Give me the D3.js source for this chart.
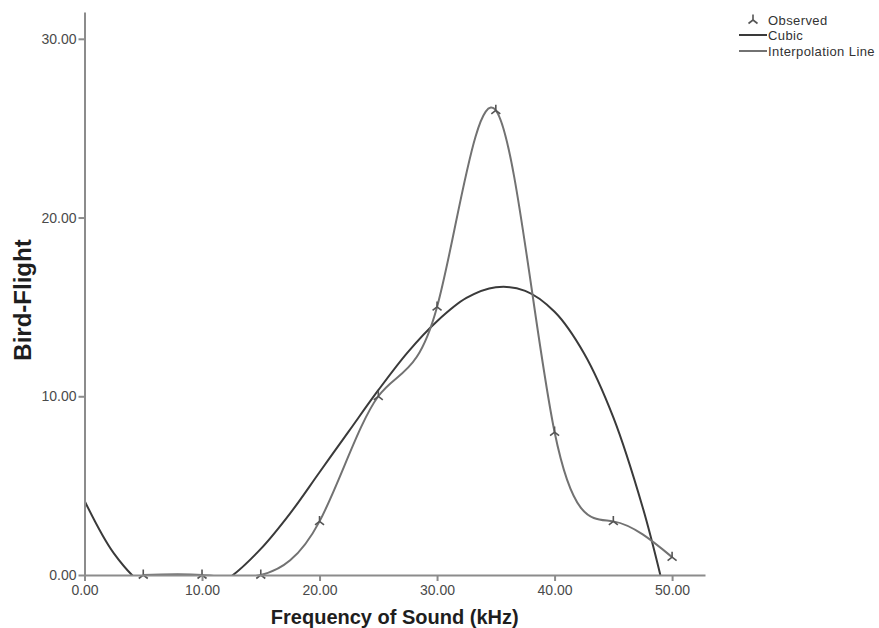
<!DOCTYPE html>
<html>
<head>
<meta charset="utf-8">
<style>
  body { margin: 0; background: #fff; }
  svg { display: block; font-family: "Liberation Sans", Arial, sans-serif; }
  .axis path, .axis line { stroke: #8c8c8c; stroke-width: 2px; }
  .axis text { fill: #4a4a4a; font-size: 14px; }
  .title { font-weight: bold; fill: #1e1e1e; }
  .legend text { font-size: 13px; fill: #333; letter-spacing: 0.4px; }
</style>
</head>
<body>
<script src="https://d3js.org/d3.v7.min.js"></script>
<script>
// observed points (frequency kHz / bird flight)
var obsFreq   = [5, 10, 15, 20, 25, 30, 35, 40, 45, 50];
var obsFlight = [0, 0, 0, 3, 10, 15, 26, 8, 3, 1];

// cubic fit (negative part is clipped at the x axis)
var cubicFreq   = [0, 2.5, 5, 7.5, 10, 12.5, 15, 17.5, 20, 22.5, 25, 27.5, 30, 32.5, 35, 37.5, 40, 42.5, 45, 47.5, 49];
var cubicFlight = [4.16, 1.21, -0.54, -1.23, -1.02, -0.07, 1.46, 3.45, 5.75, 8.05, 10.34, 12.46, 14.2, 15.5, 16.1, 15.9, 14.73, 12.41, 8.82, 3.78, 0];

var xTicks = [0, 10, 20, 30, 40, 50];
var yTicks = [0, 10, 20, 30];

var legendItems = ["Observed", "Cubic", "Interpolation Line"];

var W = 879, H = 628;

var x = d3.scaleLinear().domain([0, 52.8]).range([84.5, 705]);
var y = d3.scaleLinear().domain([0, 31.5]).range([575, 12]);

var svg = d3.select("body").append("svg")
    .attr("width", W)
    .attr("height", H);

// clip so that anything below zero is hidden
svg.append("clipPath").attr("id", "plotclip")
  .append("rect")
    .attr("x", x(0))
    .attr("y", y(31.5))
    .attr("width", x(52.8) - x(0))
    .attr("height", y(0) - y(31.5));

var obs = obsFreq.map(function(f, i) { return {f: f, v: obsFlight[i]}; });
var cubic = cubicFreq.map(function(f, i) { return {f: f, v: cubicFlight[i]}; });

var cubicLine = d3.line()
    .curve(d3.curveCatmullRom)
    .x(function(d) { return x(d.f); })
    .y(function(d) { return y(d.v); });

var interpLine = d3.line()
    .curve(d3.curveNatural)
    .x(function(d) { return x(d.f); })
    .y(function(d) { return y(d.v); });

var plot = svg.append("g").attr("clip-path", "url(#plotclip)");

plot.append("path")
    .datum(cubic)
    .attr("d", cubicLine)
    .attr("fill", "none")
    .attr("stroke", "#3a3a3a")
    .attr("stroke-width", 2);

plot.append("path")
    .datum(obs)
    .attr("d", interpLine)
    .attr("fill", "none")
    .attr("stroke", "#727272")
    .attr("stroke-width", 2);

// marker like SPSS: stem up, two legs down
var markerPath = "M0,-5.5L0,0M0,0L-4.5,3.5M0,0L4.5,3.5";

svg.append("g").selectAll("path")
  .data(obs)
  .join("path")
    .attr("transform", function(d) { return "translate(" + x(d.f) + "," + y(d.v) + ")"; })
    .attr("d", markerPath)
    .attr("fill", "none")
    .attr("stroke", "#555")
    .attr("stroke-width", 1.6);

// axes
var xAxis = svg.append("g")
    .attr("class", "axis")
    .attr("transform", "translate(0," + y(0) + ")")
    .call(d3.axisBottom(x).tickValues(xTicks).tickFormat(function(d) { return d.toFixed(2); })
      .tickSizeInner(6).tickSizeOuter(0).tickPadding(4));

var yAxis = svg.append("g")
    .attr("class", "axis")
    .attr("transform", "translate(" + x(0) + ",0)")
    .call(d3.axisLeft(y).tickValues(yTicks).tickFormat(function(d) { return d.toFixed(2); })
      .tickSizeInner(6).tickSizeOuter(0).tickPadding(2));

// axis titles
svg.append("text")
    .attr("class", "title")
    .attr("x", (x(0) + x(52.8)) / 2)
    .attr("y", 624)
    .attr("text-anchor", "middle")
    .style("font-size", "20px")
    .text("Frequency of Sound (kHz)");

svg.append("text")
    .attr("class", "title")
    .attr("transform", "translate(31,300) rotate(-90)")
    .attr("text-anchor", "middle")
    .style("font-size", "24px")
    .text("Bird-Flight");

// legend
var legend = svg.append("g").attr("class", "legend");
var lx = 739, lrow = [20, 35, 51];

legend.append("path")
    .attr("transform", "translate(753," + lrow[0] + ")")
    .attr("d", markerPath)
    .attr("fill", "none")
    .attr("stroke", "#555")
    .attr("stroke-width", 1.6);

legend.append("line")
    .attr("x1", lx).attr("x2", lx + 28)
    .attr("y1", lrow[1]).attr("y2", lrow[1])
    .attr("stroke", "#3a3a3a").attr("stroke-width", 2);

legend.append("line")
    .attr("x1", lx).attr("x2", lx + 28)
    .attr("y1", lrow[2]).attr("y2", lrow[2])
    .attr("stroke", "#727272").attr("stroke-width", 2);

legend.selectAll("text")
  .data(legendItems)
  .join("text")
    .attr("x", 768)
    .attr("y", function(d, i) { return lrow[i] + 5; })
    .text(function(d) { return d; });
</script>
</body>
</html>
